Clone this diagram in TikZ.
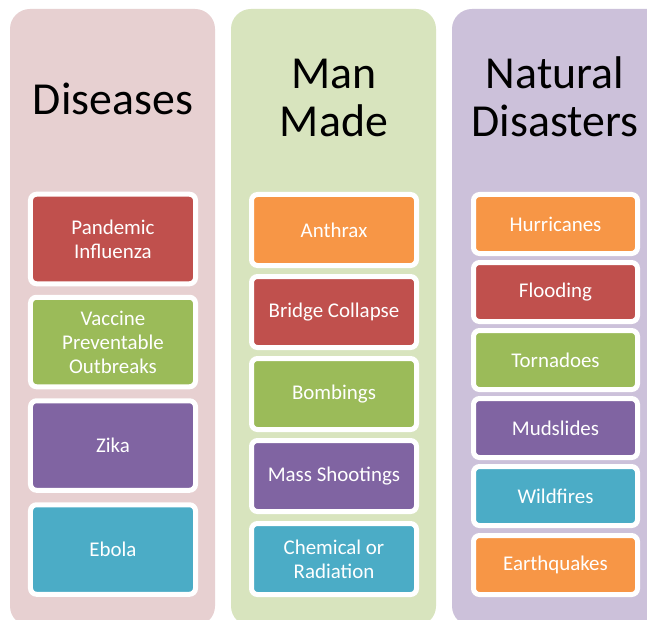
\documentclass[tikz,border=0pt]{standalone}
\usepackage{fontspec}
\setmainfont{Carlito}
\definecolor{colpink}{HTML}{E7D0D1}
\definecolor{colgreen}{HTML}{D8E4BE}
\definecolor{colpurple}{HTML}{CCC1DA}
\definecolor{cred}{HTML}{C0504D}
\definecolor{cgreen}{HTML}{9BBB59}
\definecolor{cpurple}{HTML}{8064A2}
\definecolor{ccyan}{HTML}{4BACC6}
\definecolor{corange}{HTML}{F79646}
\tikzset{
  column/.style={rounded corners=20bp, draw=none},
  title/.style={font=\fontsize{46}{48}\selectfont, align=center, inner sep=0pt, text=black},
  item/.style={draw=white, line width=5bp, rounded corners=6bp, text=white,
    font=\fontsize{21}{24}\selectfont, align=center, inner sep=0pt, outer sep=0pt},
  itemL/.style={item, minimum width=165bp, minimum height=89.5bp},
  itemM/.style={item, minimum width=165bp, minimum height=71bp},
  itemR/.style={item, minimum width=164bp, minimum height=59bp},
}
\begin{document}
\begin{tikzpicture}[x=1bp, y=-1bp]
\useasboundingbox (0,0) rectangle (647,620);
\fill[white] (0,0) rectangle (647,620);
% columns
\fill[column, colpink] (10,9) rectangle (215,626);
\fill[column, colgreen] (231,9) rectangle (436,626);
\fill[column, colpurple] (452,9) rectangle (672,626);
% titles
\node[title] (t1) at (113,98.5) {Diseases};
\node[title] (t2) at (334,98) {Man\\Made};
\node[title] (t3) at (555,97) {Natural\\Disasters};
% left column
\node[itemL, fill=cred] (l1) at (113,239) {Pandemic\\Influenza};
\node[itemL, fill=cgreen] (l2) at (113,342) {Vaccine\\Preventable\\Outbreaks};
\node[itemL, fill=cpurple] (l3) at (113,445.5) {Zika};
\node[itemL, fill=ccyan] (l4) at (113,549.5) {Ebola};
% middle column
\node[itemM, fill=corange] (m1) at (334,230) {Anthrax};
\node[itemM, fill=cred] (m2) at (334,312) {Bridge Collapse};
\node[itemM, fill=cgreen] (m3) at (334,394) {Bombings};
\node[itemM, fill=cpurple] (m4) at (334,476) {Mass Shootings};
\node[itemM, fill=ccyan] (m5) at (334,559) {Chemical or\\Radiation};
% right column
\node[itemR, fill=corange] (r1) at (555.5,224) {Hurricanes};
\node[itemR, fill=cred] (r2) at (555.5,292) {Flooding};
\node[itemR, fill=cgreen] (r3) at (555.5,360) {Tornadoes};
\node[itemR, fill=cpurple] (r4) at (555.5,428) {Mudslides};
\node[itemR, fill=ccyan] (r5) at (555.5,496) {Wildfires};
\node[itemR, fill=corange] (r6) at (555.5,565) {Earthquakes};
\end{tikzpicture}
\end{document}
